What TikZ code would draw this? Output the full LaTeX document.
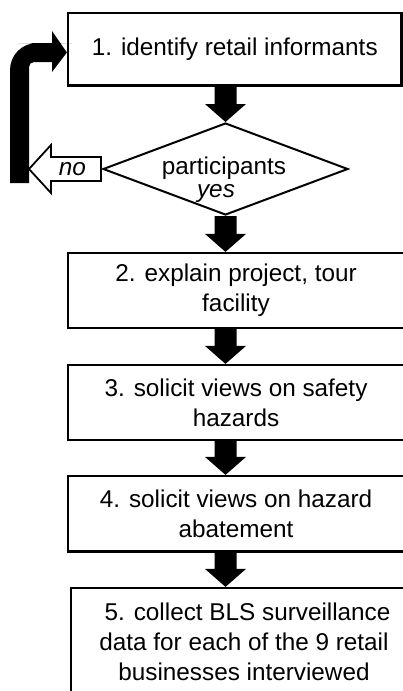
\documentclass[tikz,border=0pt]{standalone}
\usepackage{fontspec}
\setmainfont{Liberation Sans}
\usetikzlibrary{calc,shapes.geometric}
\newcommand\blkarrow[2]{%
  \fill ($(#1)+(-11,0)$) -- ($(#2)+(-11,-18)$) -- ($(#2)+(-20.5,-18)$) -- (#2)
    -- ($(#2)+(20.5,-18)$) -- ($(#2)+(11,-18)$) -- ($(#1)+(11,0)$) -- cycle;}
\begin{document}
\begin{tikzpicture}[x=1pt,y=-1pt,
  font=\fontsize{24.3}{30}\selectfont,
  box/.style={draw, line width=2.2pt, inner sep=0pt, align=center},
  hollow/.style={draw, fill=white, line width=1.8pt, line join=miter}]
\useasboundingbox (0,0) rectangle (403,691);
\clip (0,0) rectangle (403,691);
% boxes
\node[box, minimum width=333.5pt, minimum height=72.5pt] (b1) at (234.75,49.25) {1. identify retail informants};
\node[box, minimum width=336pt, minimum height=75pt] (b2) at (236,290.5) {2. explain project, tour\\facility};
\node[box, minimum width=336pt, minimum height=75pt] (b3) at (236,402.5) {3. solicit views on safety\\hazards};
\node[box, minimum width=336pt, minimum height=75.5pt] (b4) at (236,513.75) {4. solicit views on hazard\\abatement};
\node[box, minimum width=346pt, minimum height=108pt] (b5) at (244,642) {\hspace*{7pt}5. collect BLS surveillance\\data for each of the 9 retail\\businesses interviewed};
% decision
\node[diamond, draw, line width=2pt, minimum width=245pt, minimum height=92pt, inner sep=0pt, aspect=2.66] (d) at (225.5,169) {};
\node[anchor=base, inner sep=0pt] (pt) at (224,174) {participants};
\node[anchor=base, inner sep=0pt] (yt) at (216,197) {\itshape yes};
% block arrows
\coordinate (a1s) at (d.north |- b1.south);
\coordinate (a2e) at (d.south |- b2.north);
\coordinate (a3s) at (d.south |- b2.south);
\coordinate (a3e) at (d.south |- b3.north);
\coordinate (a4s) at (d.south |- b3.south);
\coordinate (a4e) at (d.south |- b4.north);
\coordinate (a5s) at (d.south |- b4.south);
\coordinate (a5e) at (d.south |- b5.north);
\blkarrow{a1s}{d.north}
\blkarrow{d.south}{a2e}
\blkarrow{a3s}{a3e}
\blkarrow{a4s}{a4e}
\blkarrow{a5s}{a5e}
% "no" hollow arrow
\coordinate (notip) at (29,169);
\draw[hollow] ($(d.west)+(-1,-12)$) -- ($(d.west)+(-1,12)$) -- (51,181) -- (51,193)
  -- (notip) -- (51,145) -- (51,157) -- cycle;
\node[anchor=base, inner sep=0pt] (no) at (72.5,175) {\itshape no};
% loop-back arrow
\coordinate (looptip) at ([yshift=-3.25pt]b1.west);
\fill (10,183) [rounded corners=27pt] -- (10,43) -- (45,43) [sharp corners] -- (52,43) -- (52,31)
  -- (looptip) -- (52,72) -- (52,62) -- (36,62) [rounded corners=5pt] -- (29,62) -- (29,70)
  [sharp corners] -- (29,183) -- cycle;
\end{tikzpicture}
\end{document}
